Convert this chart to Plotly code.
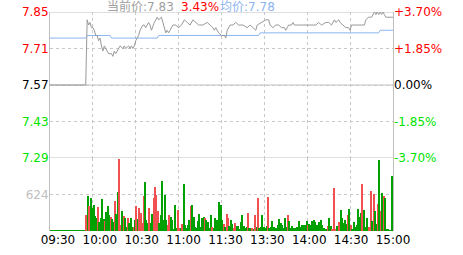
import plotly.graph_objects as go

# ---------------- data ----------------
prev_close = 7.57
last_price = 7.83
avg_price_now = 7.78

# price line vertices (minute index from 09:30, 0..240; 120 = 11:30/13:00)
price_t = [0, 25, 26, 27, 28, 29, 30, 31, 32, 33, 34, 35, 36, 37, 38, 39, 40, 41, 43, 44,
           45, 46, 47, 48, 49, 51, 52, 53, 55, 56, 57, 58, 59, 60, 62, 63, 65, 66, 67, 69,
           70, 71, 72, 73, 75, 76, 78, 80, 81, 82, 83, 84, 86, 88, 90, 92, 94, 96, 98, 100,
           102, 104, 107, 110, 112, 114, 115, 116, 118, 120, 122, 123, 124, 126, 128, 130, 132, 135, 138, 140,
           142, 144, 145, 148, 151, 153, 154, 156, 158, 160, 162, 164, 165, 167, 169, 170, 171, 175, 186, 188,
           190, 193, 195, 197, 199, 200, 202, 203, 205, 207, 209, 210, 211, 213, 220, 221, 223, 225, 226, 227,
           228, 229, 230, 231, 232, 233, 234, 235, 240]
price_v = [7.57, 7.57, 7.82, 7.80, 7.81, 7.79, 7.79, 7.78, 7.76, 7.76, 7.74, 7.75, 7.72, 7.70, 7.72, 7.71, 7.70, 7.69, 7.69, 7.68,
           7.70, 7.69, 7.70, 7.71, 7.72, 7.71, 7.72, 7.71, 7.72, 7.71, 7.72, 7.71, 7.72, 7.74, 7.76, 7.78, 7.80, 7.80, 7.79, 7.81,
           7.80, 7.78, 7.80, 7.81, 7.83, 7.82, 7.83, 7.79, 7.77, 7.78, 7.77, 7.78, 7.80, 7.80, 7.79, 7.80, 7.82, 7.81, 7.80, 7.82,
           7.81, 7.80, 7.80, 7.81, 7.80, 7.79, 7.78, 7.79, 7.77, 7.76, 7.76, 7.75, 7.78, 7.80, 7.80, 7.81, 7.80, 7.80, 7.79, 7.80,
           7.79, 7.78, 7.80, 7.81, 7.82, 7.82, 7.80, 7.79, 7.80, 7.80, 7.79, 7.79, 7.78, 7.80, 7.80, 7.81, 7.80, 7.80, 7.80, 7.81,
           7.80, 7.81, 7.81, 7.80, 7.82, 7.81, 7.82, 7.81, 7.80, 7.79, 7.79, 7.78, 7.80, 7.80, 7.80, 7.82, 7.83, 7.83, 7.84, 7.85,
           7.84, 7.85, 7.84, 7.85, 7.84, 7.85, 7.84, 7.83, 7.83]

# average price (step line)
avg_t = [0, 25, 26, 42, 43, 75, 76, 146, 147, 230, 231, 240]
avg_v = [7.75, 7.75, 7.76, 7.76, 7.75, 7.75, 7.76, 7.76, 7.77, 7.77, 7.78, 7.78]

# volume per minute (minutes 1..240) and direction (1 = up/red, 0 = down/green)
vol_values = (
    [17] * 25 +
    [270, 596, 427, 562, 393, 450, 253, 214, 410, 157,
     225, 540, 202, 169, 326, 427, 270, 242, 202, 157,
     506, 298, 663, 1236, 101, 337, 258, 214, 73, 214,
     129, 214, 73, 73, 185, 427, 202, 393, 315, 129,
     596, 843, 185, 129, 393, 129, 298, 562, 759, 618,
     337, 129, 270] +
    [860, 185, 618, 185, 101, 281, 242, 185, 34, 449,
     45, 354, 56, 45, 112, 809, 101, 56, 101, 185,
     427, 438, 242, 73, 45, 169, 298, 73, 225, 242,
     214, 185, 146, 56, 270, 73, 45, 214, 185, 73,
     494, 438, 185, 112, 73, 298, 214, 90, 185, 112,
     56, 129, 90, 90] +
    [34, 157, 281, 90, 56, 73, 315, 56, 45, 56,
     34, 270, 73, 562, 56, 73, 281, 73, 45, 90,
     579, 56, 73, 169, 73, 56, 45, 101, 202, 129,
     101, 56, 225, 73, 270, 169, 45, 90, 45, 45,
     73, 45, 169, 73, 101, 101, 101, 169, 101, 112,
     101, 169, 180, 157, 101] +
    [101, 157, 180, 101, 56, 34, 34, 90, 214, 90,
     34, 731, 34, 90, 90, 157, 354, 225, 129, 185,
     112, 270, 371, 101, 34, 157, 73, 101, 371, 242,
     315, 804, 354, 73, 214, 34, 73, 691, 169, 635,
     337, 112, 466, 1214, 337, 652, 596, 562, 34, 34,
     10, 12, 933]
)
vol_up = (
    [0] * 25 +
    [1, 0, 1, 0, 0, 0, 0, 0, 1, 0,
     0, 0, 0, 1, 0, 0, 0, 1, 0, 0,
     1, 0, 0, 1, 1, 0, 1, 0, 0, 1,
     0, 0, 0, 1, 0, 1, 0, 1, 1, 1,
     1, 0, 0, 0, 1, 0, 0, 1, 1, 1,
     1, 0, 0] +
    [0, 0, 0, 0, 1, 1, 0, 0, 0, 0,
     0, 1, 1, 0, 1, 0, 0, 0, 0, 0,
     1, 0, 0, 0, 0, 0, 0, 0, 0, 0,
     1, 0, 0, 0, 0, 1, 0, 0, 0, 0,
     0, 0, 0, 1, 0, 1, 1, 0, 0, 0,
     1, 1, 0, 0] +
    [0, 0, 0, 0, 0, 0, 1, 0, 0, 1,
     0, 1, 0, 1, 0, 0, 0, 0, 0, 0,
     1, 0, 0, 0, 0, 0, 0, 0, 0, 0,
     0, 0, 0, 0, 1, 0, 0, 0, 0, 0,
     0, 0, 0, 0, 0, 0, 0, 0, 1, 0,
     0, 0, 0, 0, 0] +
    [0, 0, 0, 0, 0, 0, 0, 1, 0, 0,
     1, 1, 1, 0, 0, 1, 0, 0, 0, 0,
     0, 1, 0, 1, 0, 0, 0, 0, 0, 0,
     0, 1, 0, 0, 0, 0, 1, 1, 0, 1,
     0, 0, 1, 0, 1, 0, 1, 0, 0, 0,
     0, 0, 0]
)
vol_minutes = list(range(1, 241))

price_ticks = [7.29, 7.43, 7.57, 7.71, 7.85]
vol_tick = 624
vol_axis_max = 1248
time_labels = ["09:30", "10:00", "10:30", "11:00", "11:30", "13:30", "14:00", "14:30", "15:00"]
grid_minutes = [30, 60, 90, 120, 150, 180, 210]

# ---------------- styling ----------------
RED = "#ff0000"
GREEN = "#00e400"
BLACK = "#000000"
GRID = "#c8c8c8"
BORDER = "#c0c0c0"
PRICE_COLOR = "#999999"
AVG_COLOR = "#8db4f0"
BAR_RED = "#f05050"
BAR_GREEN = "#00a000"
FONT = "DejaVu Sans, Noto Sans CJK SC, sans-serif"


def level_color(v):
    if v > prev_close + 1e-9:
        return RED
    if v < prev_close - 1e-9:
        return GREEN
    return BLACK


def pct_text(v):
    p = (v - prev_close) / prev_close * 100
    if abs(p) < 1e-9:
        return "0.00%"
    return f"{p:+.2f}%"


left_text = [f'<span style="color:{level_color(v)}">{v:.2f}</span>' for v in price_ticks]
right_text = [f'<span style="color:{level_color(v)}">{pct_text(v)}</span>' for v in price_ticks]
bar_colors = [BAR_RED if u else BAR_GREEN for u in vol_up]

fig = go.Figure()
fig.add_trace(go.Scatter(x=avg_t, y=avg_v, mode="lines", line=dict(color=AVG_COLOR, width=1),
                         xaxis="x", yaxis="y", hoverinfo="skip", showlegend=False))
fig.add_trace(go.Scatter(x=price_t, y=price_v, mode="lines", line=dict(color=PRICE_COLOR, width=1),
                         xaxis="x", yaxis="y", hoverinfo="skip", showlegend=False))
fig.add_trace(go.Bar(x=vol_minutes, y=vol_values, marker=dict(color=bar_colors, line=dict(width=0)),
                     width=0.75, offset=-0.85, xaxis="x", yaxis="y2", hoverinfo="skip", showlegend=False))
# helper trace carrying the right-hand percent axis
fig.add_trace(go.Scatter(x=[], y=[], xaxis="x", yaxis="y3", showlegend=False, hoverinfo="skip"))
# helper trace carrying the time-label axis
fig.add_trace(go.Scatter(x=[], y=[], xaxis="x2", yaxis="y2", showlegend=False, hoverinfo="skip"))

split = 73 / 219
fig.update_layout(
    width=463, height=255,
    margin=dict(l=50, r=70, t=12, b=24, pad=0, autoexpand=False),
    paper_bgcolor="white", plot_bgcolor="white",
    font=dict(family=FONT, size=12, color=BLACK),
    bargap=0,
    xaxis=dict(range=[0, 240], domain=[0, 1], anchor="y2", showticklabels=False, ticks="",
               tickvals=grid_minutes, showgrid=True, gridcolor=GRID, griddash="dot", gridwidth=1,
               zeroline=False, showline=False, automargin=False),
    xaxis2=dict(range=[-0.19, 8], overlaying="x", anchor="y2", side="bottom",
                tickvals=list(range(len(time_labels))), ticktext=time_labels,
                showgrid=False, zeroline=False, showline=False, ticks="", automargin=False,
                tickfont=dict(size=12, color=BLACK)),
    yaxis=dict(domain=[split, 1], range=[price_ticks[0], price_ticks[-1]], tickvals=price_ticks,
               ticktext=left_text, showgrid=True, gridcolor=GRID, griddash="dot", zeroline=False,
               showline=True, mirror=True, linecolor=BORDER, ticks="", tickfont=dict(size=12),
               ticklabelstandoff=-2, automargin=False),
    yaxis3=dict(overlaying="y", side="right", anchor="x", range=[price_ticks[0], price_ticks[-1]],
                tickvals=price_ticks, ticktext=right_text, showgrid=False, zeroline=False,
                showline=False, ticks="", tickfont=dict(size=12), automargin=False),
    yaxis2=dict(domain=[0, split], range=[0, vol_axis_max], tickvals=[vol_tick], ticktext=[str(vol_tick)],
                showgrid=True, gridcolor=GRID, griddash="dot", zeroline=False, showline=True, mirror=True,
                linecolor=BORDER, ticks="", tickfont=dict(size=12, color="#c0c0c0"), ticklabelstandoff=-2,
                automargin=False),
)

# solid reference lines: top, previous close, panel separator
for lvl in (price_ticks[-1], prev_close, price_ticks[0]):
    fig.add_shape(type="line", xref="x domain", yref="y", x0=0, x1=1, y0=lvl, y1=lvl,
                  line=dict(color=BORDER, width=1), layer="below")

chg = (last_price - prev_close) / prev_close * 100
header = [
    (f"当前价:{last_price:.2f}", "#a0a0a0", 0.160),
    (f"{chg:.2f}%", RED, 0.376),
    (f"均价:{avg_price_now:.2f}", AVG_COLOR, 0.489),
]
for txt, col, xp in header:
    fig.add_annotation(text=txt, xref="paper", yref="paper", x=xp, y=1.024, xanchor="left", yanchor="middle",
                       showarrow=False, font=dict(family=FONT, size=12, color=col))

fig.write_html("out.html")
